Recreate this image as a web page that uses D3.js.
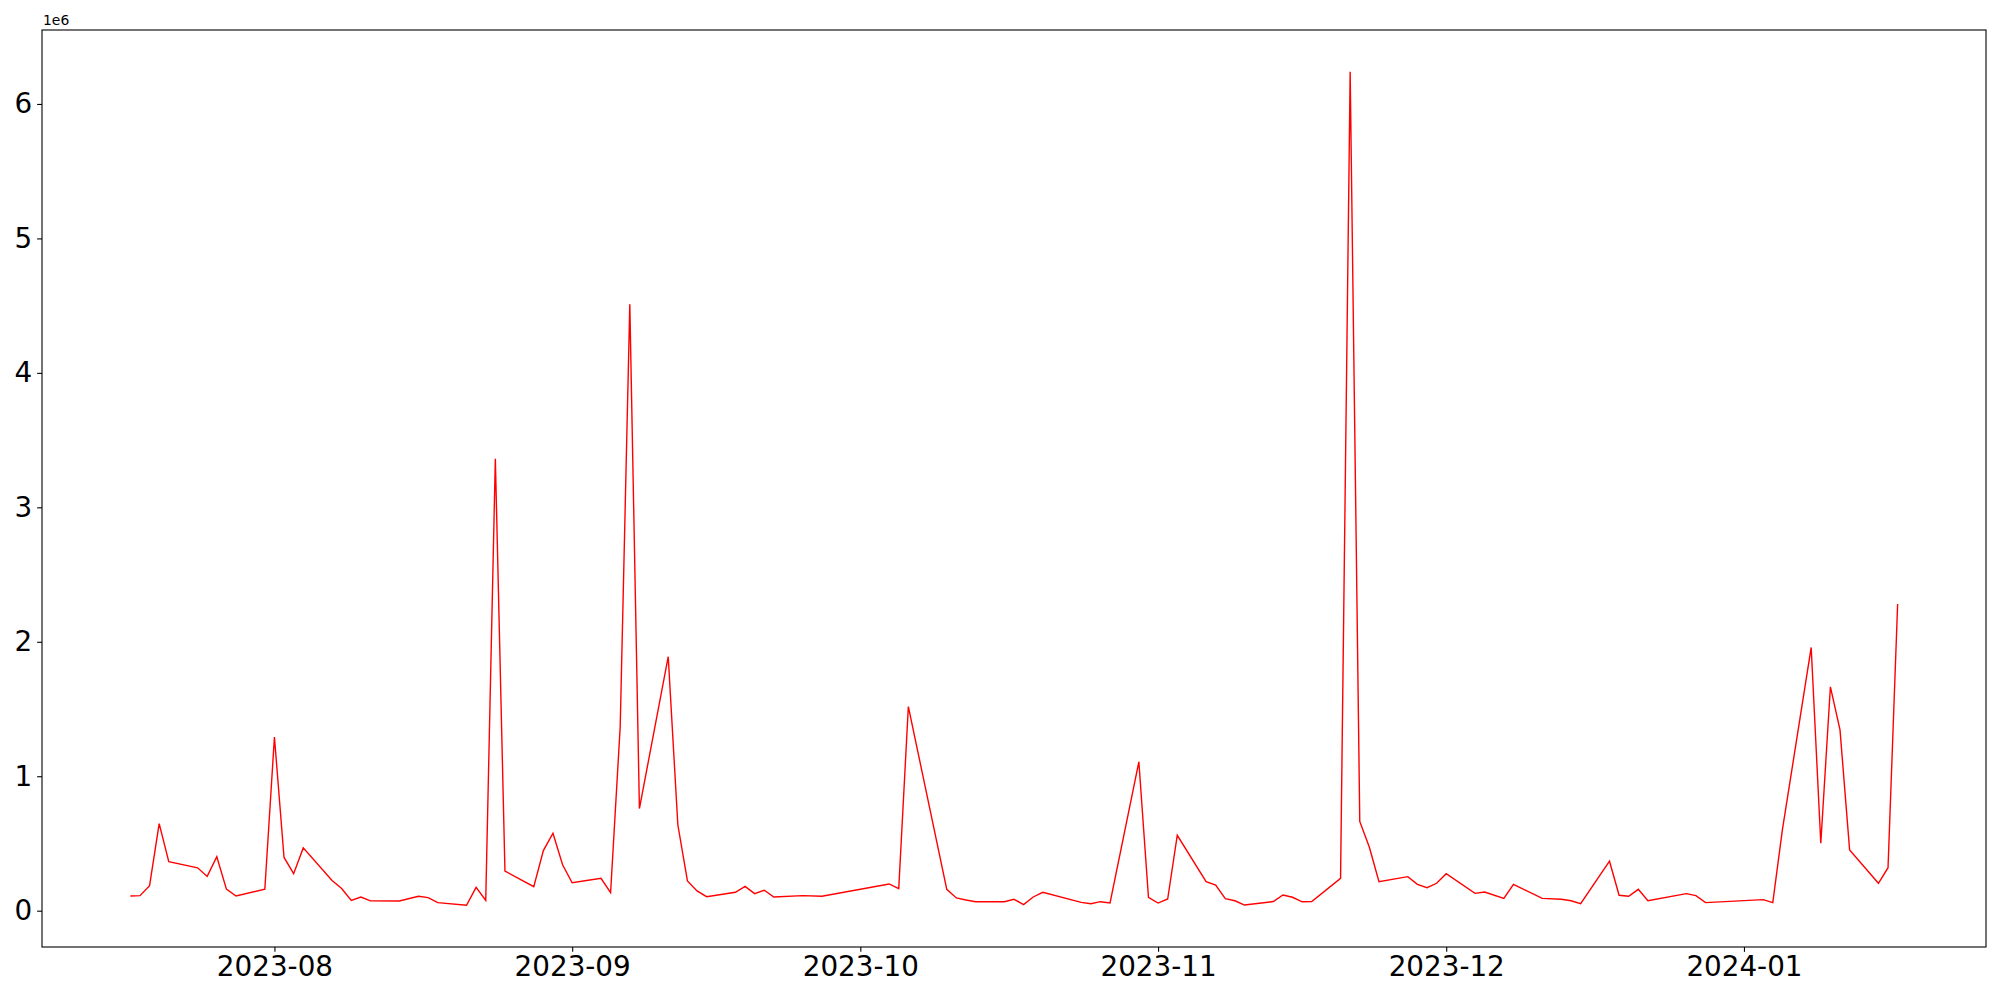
<!DOCTYPE html>
<html>
<head>
<meta charset="utf-8">
<script src="https://cdn.jsdelivr.net/npm/d3@7"></script>
<style>
  body { margin: 0; background: #ffffff; }
  svg { display: block; }
  text { font-family: "DejaVu Sans", sans-serif; fill: #000; }
</style>
</head>
<body>
<svg id="chart" width="2000" height="1000"></svg>
<script>
// ---- data ----
const dates = [
  "2023-07-17","2023-07-18","2023-07-19","2023-07-20","2023-07-21",
  "2023-07-24","2023-07-25","2023-07-26","2023-07-27","2023-07-28",
  "2023-07-31","2023-08-01","2023-08-02","2023-08-03","2023-08-04",
  "2023-08-07","2023-08-08","2023-08-09","2023-08-10","2023-08-11",
  "2023-08-14","2023-08-16","2023-08-17","2023-08-18",
  "2023-08-21","2023-08-22","2023-08-23","2023-08-24","2023-08-25",
  "2023-08-28","2023-08-29","2023-08-30","2023-08-31","2023-09-01",
  "2023-09-04","2023-09-05","2023-09-06","2023-09-07","2023-09-08",
  "2023-09-11","2023-09-12","2023-09-13","2023-09-14","2023-09-15",
  "2023-09-18","2023-09-19","2023-09-20","2023-09-21","2023-09-22",
  "2023-09-25","2023-09-27",
  "2023-10-04","2023-10-05","2023-10-06",
  "2023-10-10","2023-10-11","2023-10-12","2023-10-13",
  "2023-10-16","2023-10-17","2023-10-18","2023-10-19","2023-10-20",
  "2023-10-24","2023-10-25","2023-10-26","2023-10-27",
  "2023-10-30","2023-10-31","2023-11-01","2023-11-02","2023-11-03",
  "2023-11-06","2023-11-07","2023-11-08","2023-11-09","2023-11-10",
  "2023-11-13","2023-11-14","2023-11-15","2023-11-16","2023-11-17",
  "2023-11-20","2023-11-21","2023-11-22","2023-11-23","2023-11-24",
  "2023-11-27","2023-11-28","2023-11-29","2023-11-30","2023-12-01",
  "2023-12-04","2023-12-05","2023-12-07","2023-12-08",
  "2023-12-11","2023-12-13","2023-12-14","2023-12-15",
  "2023-12-18","2023-12-19","2023-12-20","2023-12-21","2023-12-22",
  "2023-12-26","2023-12-27","2023-12-28",
  "2024-01-03","2024-01-04","2024-01-05",
  "2024-01-08","2024-01-09","2024-01-10","2024-01-11","2024-01-12",
  "2024-01-15","2024-01-16","2024-01-17"
];
const values = [
  109000, 112000, 186000, 647000, 365000,
  319000, 255000, 401000, 160000, 109000,
  160000, 1292000, 396000, 275000, 467000,
  224000, 165000, 76000, 101000, 73000,
  72000, 107000, 97000, 60000,
  40000, 174000, 77000, 3362000, 295000,
  179000, 447000, 576000, 342000, 208000,
  241000, 134000, 1370000, 4510000, 760000,
  1889000, 639000, 221000, 147000, 104000,
  137000, 181000, 127000, 152000, 102000,
  112000, 107000,
  199000, 164000, 1518000,
  159000, 95000, 80000, 67000,
  67000, 85000, 45000, 102000, 137000,
  62000, 52000, 67000, 58000,
  1107000, 99000, 57000, 87000, 561000,
  216000, 191000, 89000, 74000, 42000,
  68000, 117000, 100000, 66000, 68000,
  241000, 6240000, 664000, 472000, 216000,
  253000, 196000, 171000, 204000, 275000,
  129000, 139000, 92000, 196000,
  92000, 85000, 74000, 52000,
  368000, 115000, 107000, 159000, 74000,
  127000, 112000, 60000,
  82000, 60000, 601000,
  1958000, 502000, 1665000, 1345000, 452000,
  204000, 320000, 2281000
];
const xTickDates = ["2023-08-01","2023-09-01","2023-10-01","2023-11-01","2023-12-01","2024-01-01"];
const yTickValues = [0, 1000000, 2000000, 3000000, 4000000, 5000000, 6000000];
const offsetLabel = "1e6";

// ---- layout ----
const W = 2000, H = 1000;
const plot = { left: 42, top: 30, right: 1986, bottom: 947 };
const parse = d3.utcParse("%Y-%m-%d");
const pts = dates.map((d, i) => ({ date: parse(d), value: values[i] }));

const xExt = d3.extent(pts, d => d.date);
const xPad = (xExt[1] - xExt[0]) * 0.05;
const x = d3.scaleUtc()
  .domain([new Date(+xExt[0] - xPad), new Date(+xExt[1] + xPad)])
  .range([plot.left, plot.right]);

const yExt = d3.extent(pts, d => d.value);
const yPad = (yExt[1] - yExt[0]) * 0.05;
const y = d3.scaleLinear()
  .domain([yExt[0] - yPad, yExt[1] + yPad])
  .range([plot.bottom, plot.top]);

const svg = d3.select("#chart");
svg.append("rect").attr("width", W).attr("height", H).attr("fill", "#fff");

// line
const line = d3.line().x(d => x(d.date)).y(d => y(d.value));
svg.append("path")
  .datum(pts)
  .attr("fill", "none")
  .attr("stroke", "#ff0000")
  .attr("stroke-width", 1.4)
  .attr("stroke-linejoin", "miter")
  .attr("d", line);

// axes
const tickLen = 4.86, tickPad = 4.86, fs = 27.8;
const xAxis = d3.axisBottom(x)
  .tickValues(xTickDates.map(parse))
  .tickFormat(d3.utcFormat("%Y-%m"))
  .tickSize(tickLen).tickPadding(tickPad);
const gx = svg.append("g").attr("transform", `translate(0,${plot.bottom})`).call(xAxis);
gx.select(".domain").remove();
gx.selectAll(".tick line").attr("stroke", "#000").attr("stroke-width", 1.1);
gx.selectAll(".tick text").attr("font-size", fs).attr("font-family", "DejaVu Sans").attr("fill", "#000");

const yAxis = d3.axisLeft(y)
  .tickValues(yTickValues)
  .tickFormat(d => d3.format("d")(d / 1e6))
  .tickSize(tickLen).tickPadding(tickPad);
const gy = svg.append("g").attr("transform", `translate(${plot.left},0)`).call(yAxis);
gy.select(".domain").remove();
gy.selectAll(".tick line").attr("stroke", "#000").attr("stroke-width", 1.1);
gy.selectAll(".tick text").attr("font-size", fs).attr("font-family", "DejaVu Sans").attr("fill", "#000");

// frame
svg.append("rect")
  .attr("x", plot.left).attr("y", plot.top)
  .attr("width", plot.right - plot.left).attr("height", plot.bottom - plot.top)
  .attr("fill", "none").attr("stroke", "#000").attr("stroke-width", 1.1);

// offset text
svg.append("text")
  .attr("x", plot.left + 1).attr("y", plot.top - 5)
  .attr("font-size", 13.9)
  .text(offsetLabel);
</script>
</body>
</html>
